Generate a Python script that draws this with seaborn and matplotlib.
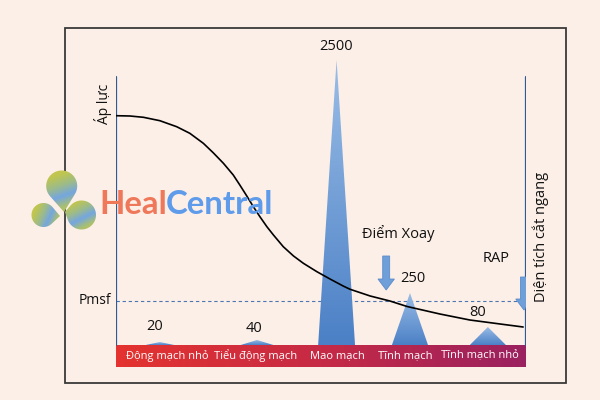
import numpy as np
import pandas as pd
import matplotlib
matplotlib.use("Agg")
import matplotlib.pyplot as plt
from matplotlib.patches import Rectangle, FancyArrow, Polygon
from matplotlib.colors import LinearSegmentedColormap
import seaborn as sns

# ---------------- data ----------------
categories = ["Động mạch nhỏ", "Tiểu động mạch", "Mao mạch", "Tĩnh mạch", "Tĩnh mạch nhỏ"]
area_labels = ["20", "40", "2500", "250", "80"]          # cross-section area values
spike_height = [3, 5, 285, 52, 18]                       # drawn height of each area spike
spike_center = [1.07, 3.44, 5.38, 7.17, 9.07]            # position along the vessel tree (0..10)
spike_halfwidth = [0.35, 0.40, 0.45, 0.44, 0.44]
category_label_x = [1.24, 3.41, 5.41, 7.05, 8.88]

pressure_x = [0.0, 0.34, 0.67, 1.07, 1.48, 1.80, 2.13, 2.37, 2.62, 2.86, 3.02, 3.19,
              3.35, 3.51, 3.68, 3.84, 4.08, 4.33, 4.57, 4.90, 5.22, 5.54, 5.71, 6.20,
              6.68, 7.10, 7.90, 8.63, 9.37, 9.93]
pressure_y = [229.3, 229.0, 227.7, 224.3, 218.3, 211.7, 201.7, 192.3, 181.7, 170.0, 160.0,
              149.0, 138.3, 128.3, 118.3, 110.0, 98.3, 89.0, 81.7, 73.3, 66.0, 59.0, 55.7,
              49.0, 44.0, 38.5, 31.0, 25.0, 21.0, 18.0]
pmsf_level = 44

BG = "#FCEFE7"
sns.set_theme(style="white")
FONT = ["Open Sans", "Noto Sans", "DejaVu Sans"]
plt.rcParams["font.family"] = FONT

fig = plt.figure(figsize=(6, 4), dpi=100)
fig.patch.set_facecolor(BG)

# decoration layer in pixel coordinates (frame + watermark logo)
deco = fig.add_axes([0, 0, 1, 1])
deco.set_xlim(0, 600)
deco.set_ylim(400, 0)
deco.axis("off")
deco.patch.set_alpha(0)
deco.add_patch(Rectangle((64.5, 27.5), 501.5, 355.5, fill=False, ec="#3a3a3a", lw=1.3, zorder=1))


def teardrop(cx, cy, r, tx, ty, n=80):
    d = np.hypot(tx - cx, ty - cy)
    th = np.arctan2(ty - cy, tx - cx)
    a = np.arccos(min(r / d, 0.999))
    ang = np.linspace(th + a, th - a + 2 * np.pi, n)
    pts = np.column_stack([cx + r * np.cos(ang), cy + r * np.sin(ang)])
    return np.vstack([pts, [[tx, ty]]])


leaf_cmap = LinearSegmentedColormap.from_list(
    "leaf", ["#CFC64A", "#BEC552", "#9DBB8A", "#74A6E0", "#A9C070", "#C8C64C"])
leaves = [  # centre x, centre y, radius, tip x, tip y, gradient direction
    (61.7, 186, 15.5, 64, 212, (0.35, 1.0)),
    (43.5, 215, 12.0, 60, 216, (1.0, 0.45)),
    (81.5, 215, 14.5, 65, 212, (0.5, 1.0)),
]
for (cx, cy, r, tx, ty, (ux, uy)) in leaves:
    pts = teardrop(cx, cy, r, tx, ty)
    poly = Polygon(pts, closed=True, fc="none", ec="none", zorder=3)
    deco.add_patch(poly)
    x0, y0 = pts.min(axis=0) - 1
    x1, y1 = pts.max(axis=0) + 1
    gx, gy = np.meshgrid(np.linspace(x0, x1, 80), np.linspace(y0, y1, 80))
    proj = (gx - x0) * ux + (gy - y0) * uy
    proj = (proj - proj.min()) / (proj.max() - proj.min())
    g = deco.imshow(proj, cmap=leaf_cmap, aspect="auto", origin="upper",
                    extent=(x0, x1, y1, y0), zorder=3, interpolation="bilinear")
    g.set_clip_path(poly)
deco.set_xlim(0, 600)
deco.set_ylim(400, 0)

# main chart axes: x = position along vascular tree, y = drawn height
ax = fig.add_axes([116 / 600, 33 / 400, 410 / 600, 322 / 400])
ax.patch.set_alpha(0)

# gradient band with category names
band = Rectangle((0, -22), 10, 22, fc="none", ec="none")
ax.add_patch(band)
band_cmap = LinearSegmentedColormap.from_list("band", ["#E4332F", "#C62A45", "#9A2160"])
im = ax.imshow(np.linspace(0, 1, 256).reshape(1, -1), cmap=band_cmap, aspect="auto",
               extent=(0, 10, -22, 0), zorder=2)
im.set_clip_path(band)
for cx, name in zip(category_label_x, categories):
    ax.text(cx, -11, name, color="white", fontsize=8.0, ha="center", va="center",
            family=FONT, zorder=5)

# Pmsf dashed level
ax.plot([0, 10], [pmsf_level, pmsf_level], ls=(0, (3, 2.5)), color="#4C75B2", lw=0.8, zorder=1)

# area spikes with vertical gradient
spike_cmap = LinearSegmentedColormap.from_list("spk", ["#4B80C6", "#9ABDE6"])
for c, hw, h in zip(spike_center, spike_halfwidth, spike_height):
    poly = Polygon([[c - hw, 0], [c, h], [c + hw, 0]], closed=True, fc="none", ec="none")
    ax.add_patch(poly)
    g = ax.imshow(np.linspace(0, 1, 256).reshape(-1, 1), cmap=spike_cmap, origin="lower",
                  aspect="auto", extent=(c - hw, c + hw, 0, max(h, 1)), zorder=3)
    g.set_clip_path(poly)

# axes lines
ax.plot([0, 0], [0, 268], color="#2E5A98", lw=1.6, zorder=4)
ax.plot([10, 10], [0, 268], color="#2E5A98", lw=1.6, zorder=4)

# pressure curve
df = pd.DataFrame({"x": pressure_x, "p": pressure_y})
sns.lineplot(data=df, x="x", y="p", ax=ax, color="black", lw=1.2, sort=False,
             estimator=None, zorder=6)
ax.set_xlim(0, 10)
ax.set_ylim(-22, 300)
ax.axis("off")

# value labels
label_pos = [(0.95, 18), (3.37, 17), (5.37, 299), (7.24, 67), (8.83, 32)]
for (lx, ly), t in zip(label_pos, area_labels):
    ax.text(lx, ly, t, fontsize=10.5, ha="center", va="center", color="#111111", family=FONT)

# annotations
ax.text(-0.12, 44, "Pmsf", fontsize=10, ha="right", va="center", color="#111111", family=FONT)
ax.text(-0.32, 241, "Áp lực", fontsize=10, rotation=90, ha="center", va="center",
        color="#111111", family=FONT)
ax.text(10.37, 108, "Diện tích cắt ngang", fontsize=10.5, rotation=90, ha="center",
        va="center", color="#111111", family=FONT)
ax.text(6.88, 111, "Điểm Xoay", fontsize=10.5, ha="center", va="center", color="#111111",
        family=FONT)
ax.text(9.27, 87, "RAP", fontsize=10.5, ha="center", va="center", color="#111111", family=FONT)

for ax_x, top, bot in [(6.59, 89, 55), (9.95, 68, 35)]:
    ax.add_patch(FancyArrow(ax_x, top, 0, bot - top, width=0.17, head_width=0.40,
                            head_length=11, length_includes_head=True,
                            fc="#6E9FD8", ec="#5B8CCB", lw=0.6, zorder=7))

# watermark text, sized to span the same width as in the reference
WM_FONT = ["Lato", "DejaVu Sans"]
wm_size = 22
t1 = fig.text(99 / 600, 1 - 204 / 400, "Heal", fontsize=wm_size, color="#F0785A",
              ha="left", va="center", family=WM_FONT, fontweight="bold", zorder=8)
t2 = fig.text(0, 1 - 204 / 400, "Central", fontsize=wm_size, color="#5E9BEA",
              ha="left", va="center", family=WM_FONT, fontweight="bold", zorder=8)
for _ in range(3):
    fig.canvas.draw()
    bb1 = t1.get_window_extent()
    t2.set_x((bb1.x1 - 1) / 600)
    fig.canvas.draw()
    bb2 = t2.get_window_extent()
    total = bb2.x1 - bb1.x0
    wm_size *= 174 / total
    t1.set_fontsize(wm_size)
    t2.set_fontsize(wm_size)
fig.canvas.draw()
bb1 = t1.get_window_extent()
t2.set_x((bb1.x1 - 1) / 600)

fig.savefig("out.png", dpi=100, facecolor=BG)
